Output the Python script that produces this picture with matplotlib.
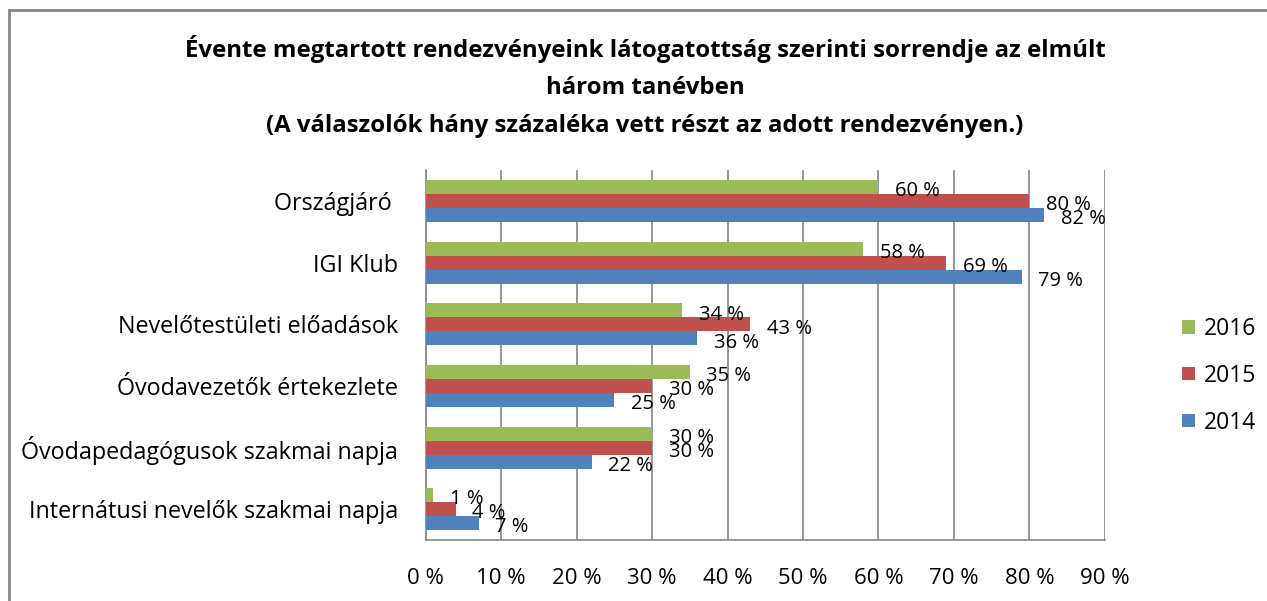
import numpy as np
import matplotlib.pyplot as plt

plt.rcParams['font.family'] = ['Open Sans', 'DejaVu Sans']

categories = ['Országjáró ', 'IGI Klub', 'Nevelőtestületi előadások',
              'Óvodavezetők értekezlete', 'Óvodapedagógusok szakmai napja',
              'Internátusi nevelők szakmai napja']
v2016 = [60, 58, 34, 35, 30, 1]
v2015 = [80, 69, 43, 30, 30, 4]
v2014 = [82, 79, 36, 25, 22, 7]

series = [('2016', v2016, '#9BBB59', -1),
          ('2015', v2015, '#C0504D', 0),
          ('2014', v2014, '#4F81BD', 1)]

fig = plt.figure(figsize=(12.67, 6.01), dpi=100)
ax = fig.add_axes([0.336, 0.1015, 0.536, 0.6155])

y = np.arange(len(categories))
h = 0.227
for name, vals, col, k in series:
    bars = ax.barh(y + k * h, vals, height=h, color=col, label=name, zorder=3)
    for b, v in zip(bars, vals):
        ax.text(v + 2.2, b.get_y() + h / 2 + 0.07, '%d %%' % v, va='center',
                ha='left', fontsize=14.5, zorder=4)

ax.set_xlim(0, 90)
ax.set_ylim(len(categories) - 0.5, -0.5)
ax.set_xticks(range(0, 91, 10))
ax.set_xticklabels(['%d %%' % t for t in range(0, 91, 10)], fontsize=16)
ax.set_yticks(y)
ax.set_yticklabels(categories, fontsize=16.8)
ax.tick_params(axis='x', length=0, pad=20)
ax.tick_params(axis='y', length=0, pad=20)
ax.grid(axis='x', color='#868686', linewidth=1.2, zorder=0)
for s in ['top', 'right']:
    ax.spines[s].set_visible(False)
for s in ['left', 'bottom']:
    ax.spines[s].set_color('#868686')
    ax.spines[s].set_linewidth(1.2)

handles, labels = ax.get_legend_handles_labels()
fig.legend(handles, labels, loc='center left', bbox_to_anchor=(1182 / 1267, 0.375),
           frameon=False, fontsize=16.5, handlelength=0.55, handleheight=0.55,
           labelspacing=1.0, handletextpad=0.4, borderpad=0, borderaxespad=0)

fig.text(0.509, 0.942, 'Évente megtartott rendezvényeink látogatottság szerinti sorrendje az elmúlt\n'
         'három tanévben\n(A válaszolók hány százaléka vett részt az adott rendezvényen.)',
         ha='center', va='top', fontsize=17.3, fontweight='bold', linespacing=1.75)

fig.patches.append(plt.Rectangle((9 / 1267, -0.01), 1.05, 1 - 10 / 601 + 0.01,
                                 transform=fig.transFigure, fill=False,
                                 edgecolor='#868686', linewidth=2))

plt.savefig('out.png', dpi=100)
